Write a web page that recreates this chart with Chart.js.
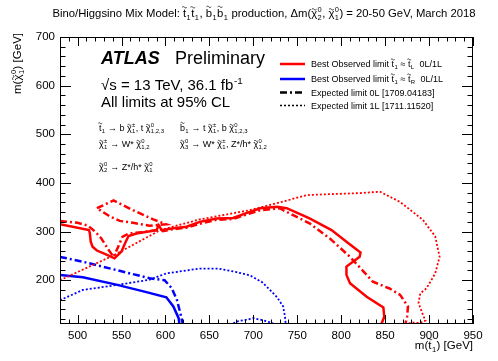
<!DOCTYPE html>
<html>
<head>
<meta charset="utf-8">
<script src="https://cdn.jsdelivr.net/npm/chart.js@4.4.1/dist/chart.umd.min.js"></script>
<style>
  html, body { margin: 0; padding: 0; background: #fff; }
  canvas { display: block; }
</style>
</head>
<body>
<canvas id="limitChart" width="498" height="361"></canvas>
<script>
// contour points, m(stop) vs m(chi10) in GeV
const redObsX = [480, 513, 514, 515, 517, 522, 531, 542, 550, 554, 558, 567, 590, 592, 596, 609, 624, 639, 658, 677, 692, 708, 727, 738, 764, 789, 806, 822, 821, 806, 806, 810, 829, 848, 849, 846, 844];
const redObsY = [315, 303, 296, 279, 269, 261, 254, 245, 259, 276, 291, 296, 303, 313, 303, 307, 310, 320, 327, 328, 338, 348, 351, 348, 327, 303, 279, 257, 248, 228, 211, 194, 166, 144, 125, 111, 105];

const redExp0LX = [480, 500, 512, 520, 527, 535, 541, 546, 551, 558, 575, 590, 593, 597, 609, 624, 639, 658, 677, 692, 708, 730, 734, 764, 787, 810, 829, 836, 855, 867, 876, 875, 873, 872];
const redExp0LY = [322, 318, 312, 300, 286, 263, 248, 268, 289, 296, 299, 303, 311, 301, 305, 308, 316, 324, 326, 335, 344, 348, 344, 317, 286, 248, 211, 197, 183, 170, 146, 125, 110, 105];

const redExp0LIslandX = [522, 541, 563, 586, 601, 582, 563, 548, 537, 522];
const redExp0LIslandY = [348, 364, 344, 325, 315, 312, 318, 322, 331, 348];

const redExp1LX = [480, 542, 594, 639, 696, 730, 761, 787, 821, 844, 867, 893, 907, 912, 907, 897, 890, 888, 893, 896, 889, 880, 872];
const redExp1LY = [200, 252, 303, 325, 344, 360, 375, 377, 379, 382, 361, 324, 290, 248, 214, 183, 173, 153, 129, 117, 112, 113, 108];

const blueObsX = [480, 506, 544, 575, 601, 609, 615, 616];
const blueObsY = [211, 206, 191, 177, 165, 146, 122, 108];

const blueExp0LX = [480, 506, 544, 582, 599, 607, 613, 617, 620];
const blueExp0LY = [248, 238, 221, 204, 200, 184, 160, 132, 108];

const blueExp1LX = [480, 506, 544, 582, 601, 639, 660, 680, 696, 710, 719, 727, 734, 736, 737];
const blueExp1LY = [159, 180, 190, 201, 214, 224, 224, 217, 210, 196, 180, 165, 146, 125, 108];

const blueExp1LIslandX = [673, 683, 693, 700, 710, 718, 726];
const blueExp1LIslandY = [108, 116, 119, 122, 118, 114, 108];

const xTickLabels = [500, 550, 600, 650, 700, 750, 800, 850, 900, 950];
const yTickLabels = [200, 300, 400, 500, 600, 700];

const legendLabels = [
  'Best Observed limit t\u0303{_1} \u2248 t\u0303{_L}  0L/1L',
  'Best Observed limit t\u0303{_1} \u2248 t\u0303{_R}  0L/1L',
  'Expected limit 0L [1709.04183]',
  'Expected limit 1L [1711.11520]'
];

const FONT = '"Liberation Sans", Arial, Helvetica, sans-serif';
const RED = '#ff0000';
const BLUE = '#0000ff';
const DASHDOT = [7, 3, 2, 3];
const DOTTED = [2, 2];

function pts(xs, ys) {
  return xs.map((x, i) => ({ x: x, y: ys[i] }));
}

function curve(xs, ys, color, width, dash) {
  return {
    data: pts(xs, ys),
    showLine: true,
    borderColor: color,
    backgroundColor: color,
    borderWidth: width,
    borderDash: dash,
    pointRadius: 0,
    pointHoverRadius: 0,
    tension: 0,
    fill: false
  };
}

// tilde height (fraction of font size) above the baseline for each letter
const tildeTop = { 't': 0.86, 'b': 0.9, '\u03c7': 0.68 };

function drawTilde(ctx, cx, cy, size) {
  const tw = size * 0.42, amp = size * 0.055;
  ctx.save();
  ctx.strokeStyle = '#000';
  ctx.lineWidth = Math.max(0.8, size * 0.07);
  ctx.setLineDash([]);
  ctx.beginPath();
  for (let i = 0; i <= 12; i++) {
    const f = i / 12;
    const px = cx - tw / 2 + f * tw;
    const py = cy - Math.sin(f * Math.PI * 2) * amp;
    if (i === 0) ctx.moveTo(px, py); else ctx.lineTo(px, py);
  }
  ctx.stroke();
  ctx.restore();
}

// text with {^sup_sub} stacked scripts and x\u0303 for a tilde over x
function drawRich(ctx, str, x, y, size, opts) {
  opts = opts || {};
  const weight = opts.weight || '';
  const small = size * 0.66;
  const pieces = [];
  str.split(/(\{[^}]*\})/).filter(s => s.length).forEach(p => {
    if (p[0] === '{') {
      const m = p.slice(1, -1).match(/^(?:\^([^_]*))?(?:_(.*))?$/);
      pieces.push({ sup: m[1] || '', sub: m[2] || '' });
      return;
    }
    p.split(/(.\u0303)/).filter(s => s.length).forEach(q => {
      if (q.length === 2 && q[1] === '\u0303') pieces.push({ text: q[0], tilde: true });
      else pieces.push({ text: q });
    });
  });
  let w = 0;
  pieces.forEach(pc => {
    if (pc.text !== undefined) {
      ctx.font = `${weight} ${size}px ${FONT}`;
      pc.w = ctx.measureText(pc.text).width;
    } else {
      ctx.font = `${small}px ${FONT}`;
      pc.w = Math.max(ctx.measureText(pc.sup).width, ctx.measureText(pc.sub).width) + size * 0.08;
    }
    w += pc.w;
  });
  let cx = x;
  if (opts.align === 'right') cx = x - w;
  if (opts.align === 'center') cx = x - w / 2;
  ctx.textAlign = 'left';
  ctx.textBaseline = 'alphabetic';
  ctx.fillStyle = '#000';
  pieces.forEach(pc => {
    if (pc.text !== undefined) {
      ctx.font = `${weight} ${size}px ${FONT}`;
      ctx.fillText(pc.text, cx, y);
      if (pc.tilde) {
        const top = tildeTop[pc.text] || 0.86;
        drawTilde(ctx, cx + pc.w / 2, y - size * top, size);
      }
    } else {
      ctx.font = `${small}px ${FONT}`;
      if (pc.sup) ctx.fillText(pc.sup, cx + size * 0.04, y - size * 0.42);
      if (pc.sub) ctx.fillText(pc.sub, cx + size * 0.04, y + size * 0.24);
    }
    cx += pc.w;
  });
  return w;
}

const rootFrame = {
  id: 'rootFrame',
  beforeDraw(chart) {
    const ctx = chart.ctx;
    ctx.save();
    ctx.fillStyle = '#fff';
    ctx.fillRect(0, 0, chart.width, chart.height);
    ctx.restore();
  },
  afterDraw(chart) {
    const ctx = chart.ctx;
    const a = chart.chartArea;
    const xs = chart.scales.x, ys = chart.scales.y;
    ctx.save();
    ctx.strokeStyle = '#000';
    ctx.lineWidth = 1;
    ctx.setLineDash([]);
    ctx.strokeRect(a.left + 0.5, a.top + 0.5, a.right - a.left - 1, a.bottom - a.top - 1);

    // ticks pointing inward on all four sides
    ctx.beginPath();
    for (let v = 480; v <= 950; v += 10) {
      const px = Math.round(xs.getPixelForValue(v)) + 0.5;
      const len = v % 50 === 0 ? 9 : 4.5;
      ctx.moveTo(px, a.bottom); ctx.lineTo(px, a.bottom - len);
      ctx.moveTo(px, a.top); ctx.lineTo(px, a.top + len);
    }
    for (let v = 120; v <= 700; v += 20) {
      const py = Math.round(ys.getPixelForValue(v)) + 0.5;
      const len = v % 100 === 0 ? 11 : 5.5;
      ctx.moveTo(a.left, py); ctx.lineTo(a.left + len, py);
      ctx.moveTo(a.right, py); ctx.lineTo(a.right - len, py);
    }
    ctx.stroke();

    // title
    drawRich(ctx, 'Bino/Higgsino Mix Model: t\u0303{_1}t\u0303{_1}, b\u0303{_1}b\u0303{_1} production, \u0394m(\u03c7\u0303{^0_2}, \u03c7\u0303{^0_1}) = 20-50 GeV, March 2018', 264, 17, 11.3, { align: 'center' });

    // axis titles
    drawRich(ctx, 'm(t\u0303{_1}) [GeV]', a.right, 349, 11.5, { align: 'right' });
    ctx.save();
    ctx.translate(21, 33);
    ctx.rotate(-Math.PI / 2);
    drawRich(ctx, 'm(\u03c7\u0303{^0_1}) [GeV]', 0, 0, 11.5, { align: 'right' });
    ctx.restore();

    // ATLAS label block
    ctx.fillStyle = '#000';
    ctx.textAlign = 'left';
    ctx.textBaseline = 'alphabetic';
    ctx.font = `italic bold 18px ${FONT}`;
    ctx.fillText('ATLAS', 101, 64);
    ctx.font = `18px ${FONT}`;
    ctx.fillText('Preliminary', 175, 64);
    drawRich(ctx, '\u221as = 13 TeV, 36.1 fb{^-1}', 101, 90, 15);
    drawRich(ctx, 'All limits at 95% CL', 101, 107, 15);

    // decay chains
    drawRich(ctx, 't\u0303{_1} \u2192 b \u03c7\u0303{^\u00b1_1}, t \u03c7\u0303{^0_1,2,3}', 99, 131, 9);
    drawRich(ctx, 'b\u0303{_1} \u2192 t \u03c7\u0303{^\u00b1_1}, b \u03c7\u0303{^0_1,2,3}', 180, 131, 9);
    drawRich(ctx, '\u03c7\u0303{^\u00b1_1} \u2192 W* \u03c7\u0303{^0_1,2}', 99, 147, 9);
    drawRich(ctx, '\u03c7\u0303{^0_3} \u2192 W* \u03c7\u0303{^\u00b1_1}, Z*/h* \u03c7\u0303{^0_1,2}', 180, 147, 9);
    drawRich(ctx, '\u03c7\u0303{^0_2} \u2192 Z*/h* \u03c7\u0303{^0_1}', 99, 170, 9);

    // legend
    const rows = [64, 79, 92.5, 105.5];
    const styles = [
      { c: RED, w: 2.5, d: [] },
      { c: BLUE, w: 2.5, d: [] },
      { c: '#000', w: 2.5, d: DASHDOT },
      { c: '#000', w: 1.5, d: DOTTED }
    ];
    rows.forEach((ry, i) => {
      ctx.save();
      ctx.strokeStyle = styles[i].c;
      ctx.lineWidth = styles[i].w;
      ctx.setLineDash(styles[i].d);
      ctx.beginPath();
      ctx.moveTo(280, ry);
      ctx.lineTo(305, ry);
      ctx.stroke();
      ctx.restore();
      drawRich(ctx, legendLabels[i], 311, ry + 3.2, 9);
    });
    ctx.restore();
  }
};

const tickFont = { family: FONT, size: 11.5 };

new Chart(document.getElementById('limitChart'), {
  type: 'scatter',
  data: {
    datasets: [
      curve(redExp1LX, redExp1LY, RED, 1.8, DOTTED),
      curve(blueExp1LX, blueExp1LY, BLUE, 1.8, DOTTED),
      curve(blueExp1LIslandX, blueExp1LIslandY, BLUE, 1.8, DOTTED),
      curve(redExp0LX, redExp0LY, RED, 2.5, DASHDOT),
      curve(redExp0LIslandX, redExp0LIslandY, RED, 2.5, DASHDOT),
      curve(blueExp0LX, blueExp0LY, BLUE, 2.5, DASHDOT),
      curve(redObsX, redObsY, RED, 2.5, []),
      curve(blueObsX, blueObsY, BLUE, 2.5, [])
    ]
  },
  options: {
    responsive: false,
    animation: false,
    events: [],
    layout: { padding: { left: 0, top: 37, right: 25, bottom: 0 } },
    plugins: {
      legend: { display: false },
      tooltip: { enabled: false }
    },
    scales: {
      x: {
        type: 'linear',
        min: 480,
        max: 950,
        grid: { display: false, drawTicks: false },
        border: { display: false },
        afterBuildTicks: s => { s.ticks = xTickLabels.map(v => ({ value: v })); },
        afterFit: s => { s.height = 37; },
        ticks: { font: tickFont, color: '#000', padding: 5, maxRotation: 0, autoSkip: false }
      },
      y: {
        type: 'linear',
        min: 110,
        max: 700,
        grid: { display: false, drawTicks: false },
        border: { display: false },
        afterBuildTicks: s => { s.ticks = yTickLabels.map(v => ({ value: v })); },
        afterFit: s => { s.width = 60; },
        ticks: { font: tickFont, color: '#000', padding: 5, autoSkip: false }
      }
    }
  },
  plugins: [rootFrame]
});
</script>
</body>
</html>
